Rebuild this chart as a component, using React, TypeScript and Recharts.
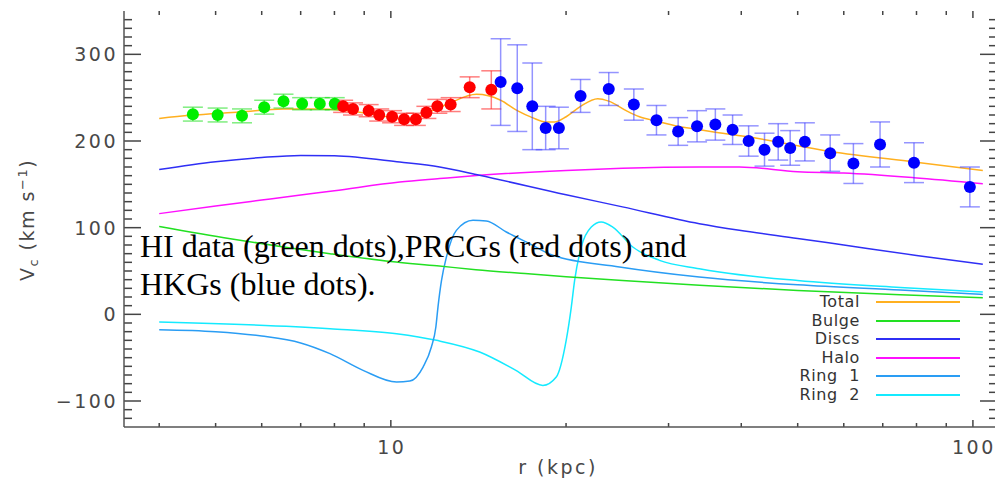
import React from "react";
import { ComposedChart, Line, Scatter, ErrorBar, XAxis, YAxis, ReferenceLine } from "recharts";

// HI data (green)
const hiR = [4.57, 5.04, 5.55, 6.06, 6.54, 7.04, 7.55, 8.01];
const hiV = [231, 230, 229, 239, 246, 243, 243, 243];
const hiErr = [8, 8, 8, 8, 8, 7, 7, 7];

// PRCGs (red)
const prcgR = [8.28, 8.61, 9.16, 9.55, 10.05, 10.54, 11.04, 11.51, 12.02, 12.67, 13.66, 14.88];
const prcgV = [240, 237, 235, 230, 228, 225, 225, 233, 240, 242, 262, 259];
const prcgErr = [7, 7, 7, 7, 7, 7, 7, 7, 8, 8, 12, 22];

// HKGs (blue)
const hkgR = [15.44, 16.49, 17.5, 18.45, 19.44, 21.18, 23.68, 26.15, 28.6, 31.16, 33.58, 36.1, 38.65, 41.18, 43.85, 46.29, 48.54, 51.44, 56.86, 62.33, 69.26, 79.21, 98.8];
const hkgV = [268, 261, 240, 215, 215, 252, 260, 242, 224, 211, 217, 219, 213, 200, 190, 199, 192, 199, 186, 174, 196, 175, 147];
const hkgErr = [50, 50, 50, 25, 24, 19, 19, 18, 17, 16, 18, 18, 17, 17.5, 19, 21, 20, 22, 21, 23, 26, 23, 23];

// model curves
const totalR = [4, 4.52, 5.51, 6.54, 7.55, 8.28, 9.32, 10.49, 11.07, 11.82, 12.62, 14.03, 15.44, 16.49, 17.5, 18.45, 19.11, 20.01, 21.18, 22.67, 23.68, 25.37, 26.74, 28.6, 31.16, 33.58, 36.1, 41.18, 56.86, 79.21, 104];
const totalV = [226, 229.6, 233.4, 237, 237, 235.4, 230.8, 225.8, 227, 235.4, 243.8, 253.8, 247, 235, 227, 222, 222, 228, 240, 248.8, 246, 235, 228, 223, 217, 213.5, 210, 204.6, 188, 175.8, 166];

const bulgeR = [4, 5.3, 6.5, 7.86, 10, 12, 14, 17, 20, 25, 33.9, 50, 75, 104];
const bulgeV = [101.5, 87.3, 78, 70, 61, 56, 51.5, 47, 43.5, 39, 33.5, 27.5, 22.5, 19.2];

const discsR = [4, 5, 6, 7, 8, 10.36, 12.13, 14.2, 20, 25, 33.88, 39.7, 50, 60, 80, 104];
const discsV = [167, 176, 181, 183.4, 183, 175.7, 170, 160.4, 138, 124, 104.6, 97, 87.6, 80, 68, 57.7];

const haloR = [4, 5, 6, 7, 8, 10.36, 12.13, 14.2, 20, 25, 33.88, 39.7, 50, 60, 79.2, 104];
const haloV = [116.2, 124.9, 131.8, 137.6, 142.6, 152.6, 156.6, 160.4, 166, 168.5, 170, 170, 164.5, 163, 157.7, 150.8];

const ring1R = [4, 5, 6, 7, 7.86, 8.96, 10.23, 10.78, 11.36, 11.74, 11.95, 12.05, 12.22, 12.46, 12.96, 13.84, 14.59, 15.79, 17.31, 18.98, 24.71, 33.88, 50, 75, 104];
const ring1V = [-17.7, -20, -25, -33, -45.4, -64.6, -78.1, -77, -60.8, -37.7, -14.6, 8.4, 39.2, 66.1, 96.9, 108.5, 107.7, 95, 81.6, 68.1, 54.6, 43, 34, 28, 23];

const ring2R = [4, 7.86, 10.23, 11.98, 14.21, 16.4, 18.25, 19.24, 20.01, 20.42, 20.69, 21.24, 22.1, 22.98, 24.06, 26.04, 28.94, 33.88, 36.67, 50, 75, 104];
const ring2V = [-8.9, -16.5, -22.3, -30, -43.5, -64.6, -82, -72.3, -30, 8.4, 39.2, 77.7, 100.7, 106.5, 100.7, 77.7, 62.3, 52.7, 48.8, 39, 31, 25.7];

const xTicks = [4, 5, 6, 7, 8, 9, 10, 20, 30, 40, 50, 60, 70, 80, 90, 100];
const xLabels = [10, 100];
const yMajor = [-100, 0, 100, 200, 300];
const yTicks = Array.from({ length: 47 }, (_, i) => -120 + i * 10);

const TOTAL = "#ffb020";
const BULGE = "#22e022";
const DISCS = "#2f2ff5";
const HALO = "#ff10ff";
const RING1 = "#2a9df4";
const RING2 = "#14eaff";

const legendItems = [
  { name: "Total", color: TOTAL },
  { name: "Bulge", color: BULGE },
  { name: "Discs", color: DISCS },
  { name: "Halo", color: HALO },
  { name: "Ring  1", color: RING1 },
  { name: "Ring  2", color: RING2 },
];

const AXIS = "#555";
const TXT = "#484848";
const FONT = "DejaVu Sans";

// axis ranges and plot size (px) -> inward tick marks in data units
const X_MIN = 3.48;
const X_MAX = 110;
const Y_MIN = -130;
const Y_MAX = 350;
const PLOT_W = 873;
const PLOT_H = 416;
const kx = (px: number) => Math.pow(10, (px / PLOT_W) * Math.log10(X_MAX / X_MIN));
const ky = (px: number) => (px / PLOT_H) * (Y_MAX - Y_MIN);

const tickSegments = [
  ...yTicks.flatMap((v) => {
    const len = yMajor.includes(v) ? 17 : 8;
    return [
      [{ x: X_MIN, y: v }, { x: X_MIN * kx(len), y: v }],
      [{ x: X_MAX, y: v }, { x: X_MAX / kx(len), y: v }],
    ];
  }),
  ...xTicks.flatMap((r) => {
    const len = xLabels.includes(r) ? 7 : 4;
    return [
      [{ x: r, y: Y_MIN }, { x: r, y: Y_MIN + ky(len) }],
      [{ x: r, y: Y_MAX }, { x: r, y: Y_MAX - ky(len) }],
    ];
  }),
];

const pts = (rs: number[], vs: number[], es?: number[]) =>
  rs.map((r, i) => ({ r, v: vs[i], err: es ? es[i] : 0 }));

const bottomTick = ({ x, y, payload }: any) =>
  xLabels.includes(payload.value) ? (
    <text x={x + 1} y={y + 27} textAnchor="middle" fontSize={19} fontFamily={FONT} fill={TXT} letterSpacing={2.5}>
      {payload.value}
    </text>
  ) : (
    <g />
  );

const leftTick = ({ x, y, payload }: any) =>
  yMajor.includes(payload.value) ? (
    <text x={x - 6} y={y} dy="0.36em" textAnchor="end" fontSize={19} fontFamily={FONT} fill={TXT} letterSpacing={2.5}>
      {payload.value < 0 ? "\u2212" + Math.abs(payload.value) : payload.value}
    </text>
  ) : (
    <g />
  );

function YTitle() {
  return (
    <text
      x={34}
      y={220}
      transform="rotate(-90, 34, 220)"
      textAnchor="middle"
      fontSize={19}
      fontFamily={FONT}
      fill={TXT}
      letterSpacing={1.5}
    >
      V
      <tspan fontSize={13} dy={4}>c</tspan>
      <tspan dy={-4}> (km s</tspan>
      <tspan fontSize={13} dy={-7}>{"\u22121"}</tspan>
      <tspan dy={7}>)</tspan>
    </text>
  );
}

function XTitle() {
  return (
    <text x={558} y={474} textAnchor="middle" fontSize={19} fontFamily={FONT} fill={TXT} letterSpacing={2.5}>
      r (kpc)
    </text>
  );
}

const dot = (color: string) => (p: any) => <circle cx={p.cx} cy={p.cy} r={6} fill={color} />;

const axisLine = { stroke: AXIS, strokeWidth: 1.5 };

export default function App() {
  const curves = [
    { key: "ring2", r: ring2R, v: ring2V, c: RING2 },
    { key: "ring1", r: ring1R, v: ring1V, c: RING1 },
    { key: "bulge", r: bulgeR, v: bulgeV, c: BULGE },
    { key: "halo", r: haloR, v: haloV, c: HALO },
    { key: "discs", r: discsR, v: discsV, c: DISCS },
    { key: "total", r: totalR, v: totalV, c: TOTAL },
  ];
  return (
    <div style={{ position: "absolute", left: 0, top: 0, width: 995, height: 485, overflow: "hidden", background: "#fff" }}>
      <ComposedChart width={997} height={485} margin={{ top: 11, right: 0, bottom: 0, left: 0 }}>
        <XAxis
          dataKey="r"
          type="number"
          scale="log"
          domain={[X_MIN, X_MAX]}
          allowDataOverflow
          ticks={xTicks}
          interval={0}
          height={58}
          tickSize={0}
          tickMargin={0}
          tickLine={false}
          tick={bottomTick}
          axisLine={axisLine}
          label={<XTitle />}
        />
        <XAxis
          xAxisId="top"
          orientation="top"
          dataKey="r"
          type="number"
          scale="log"
          domain={[X_MIN, X_MAX]}
          allowDataOverflow
          height={0}
          tick={false}
          tickLine={false}
          axisLine={axisLine}
        />
        <YAxis
          type="number"
          domain={[Y_MIN, Y_MAX]}
          allowDataOverflow
          ticks={yTicks}
          interval={0}
          width={124}
          tickSize={0}
          tickMargin={0}
          tickLine={false}
          tick={leftTick}
          axisLine={axisLine}
          label={<YTitle />}
        />
        {tickSegments.map((s, i) => (
          <ReferenceLine key={i} segment={s} stroke="#444" strokeWidth={1.5} ifOverflow="visible" />
        ))}
        {curves.map((c) => (
          <Line
            key={c.key}
            data={pts(c.r, c.v)}
            dataKey="v"
            type="monotone"
            stroke={c.c}
            strokeWidth={1.5}
            dot={false}
            activeDot={false}
            isAnimationActive={false}
          />
        ))}
        <Scatter data={pts(hiR, hiV, hiErr)} dataKey="v" shape={dot("#00ee00")} isAnimationActive={false}>
          <ErrorBar dataKey="err" direction="y" width={10} stroke="rgba(0,220,0,0.5)" strokeWidth={1.5} />
        </Scatter>
        <Scatter data={pts(prcgR, prcgV, prcgErr)} dataKey="v" shape={dot("#ff0000")} isAnimationActive={false}>
          <ErrorBar dataKey="err" direction="y" width={10} stroke="rgba(255,40,40,0.6)" strokeWidth={1.5} />
        </Scatter>
        <Scatter data={pts(hkgR, hkgV, hkgErr)} dataKey="v" shape={dot("#0000ff")} isAnimationActive={false}>
          <ErrorBar dataKey="err" direction="y" width={10} stroke="rgba(60,60,255,0.55)" strokeWidth={1.5} />
        </Scatter>
      </ComposedChart>
      <div
        style={{
          position: "absolute",
          left: 140,
          top: 227,
          fontFamily: "Liberation Serif",
          fontSize: 32,
          lineHeight: "38px",
          color: "#000",
          whiteSpace: "nowrap",
        }}
      >
        HI data (green dots),PRCGs (red dots) and
        <br />
        HKGs (blue dots).
      </div>
      <div style={{ position: "absolute", left: 700, top: 292 }}>
        {legendItems.map((it) => (
          <div key={it.name} style={{ position: "relative", height: 18.5, width: 270 }}>
            <span
              style={{
                position: "absolute",
                right: 110,
                top: 0,
                fontFamily: FONT,
                fontSize: 16,
                lineHeight: "19px",
                letterSpacing: 0.6,
                color: "#333",
                whiteSpace: "pre",
              }}
            >
              {it.name}
            </span>
            <span
              style={{
                position: "absolute",
                left: 176,
                top: 9,
                width: 84,
                height: 2,
                background: it.color,
              }}
            />
          </div>
        ))}
      </div>
    </div>
  );
}
